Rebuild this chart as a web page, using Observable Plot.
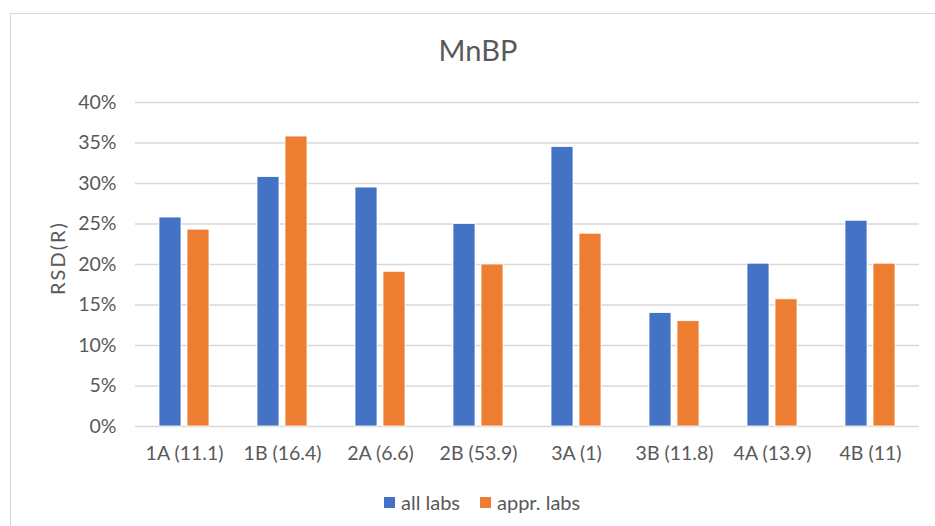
<!DOCTYPE html>
<html>
<head>
<meta charset="utf-8">
<script src="https://cdn.jsdelivr.net/npm/d3@7"></script>
<script src="https://cdn.jsdelivr.net/npm/@observablehq/plot@0.6"></script>
<style>
  html, body { margin: 0; padding: 0; background: #fff; overflow: hidden; }
  #wrap { position: relative; width: 935px; height: 526px; overflow: hidden; font-family: Lato, sans-serif; color: #595959; }
  #frame { position: absolute; left: 10px; top: 13px; width: 1000px; height: 1000px; border: 1px solid #d9d9d9; }
  #chart { position: absolute; left: 0; top: 0; }
  #title { position: absolute; left: 10px; width: 936px; top: 32px; text-align: center; font-size: 29px; line-height: 36px; }
  #ylabel { position: absolute; left: 57px; top: 258px; transform: translate(-50%, -50%) rotate(-90deg); font-size: 20px; letter-spacing: 2px; white-space: nowrap; }
  .leg { position: absolute; top: 491px; display: flex; align-items: center; font-size: 20px; line-height: 22px; }
  .leg span.sw { display: inline-block; width: 11px; height: 11px; margin-right: 6px; }
</style>
</head>
<body>
<div id="wrap">
  <div id="frame"></div>
  <div id="chart"></div>
  <div id="title">MnBP</div>
  <div id="ylabel">RSD(R)</div>
  <div id="legend"></div>
</div>
<script>
const categories = ["1A (11.1)", "1B (16.4)", "2A (6.6)", "2B (53.9)", "3A (1)", "3B (11.8)", "4A (13.9)", "4B (11)"];
const series = ["all labs", "appr. labs"];
const allLabs = [0.258, 0.308, 0.295, 0.250, 0.345, 0.140, 0.201, 0.254];
const apprLabs = [0.243, 0.358, 0.191, 0.200, 0.238, 0.130, 0.157, 0.201];
const yTicks = [0, 0.05, 0.10, 0.15, 0.20, 0.25, 0.30, 0.35, 0.40];
const colors = ["#4472C4", "#ED7D31"];

const data = [];
categories.forEach((c, i) => {
  data.push({cat: c, series: series[0], value: allLabs[i]});
  data.push({cat: c, series: series[1], value: apprLabs[i]});
});

const chart = Plot.plot({
  width: 935,
  height: 470,
  marginTop: 102,
  marginBottom: 44,
  marginLeft: 133,
  marginRight: 14,
  style: {fontFamily: "Lato, sans-serif", fontSize: "19.5px", color: "#595959", background: "transparent"},
  fx: {domain: categories, padding: 0, label: null, axis: "bottom", tickSize: 0, tickPadding: 20},
  x: {domain: series, axis: null, paddingInner: 0.23, paddingOuter: 0.837},
  y: {domain: [0, 0.4], ticks: 8, tickFormat: d3.format(".0%"), tickSize: 0, tickPadding: 19, label: null},
  color: {domain: series, range: colors},
  marks: [
    Plot.ruleY(yTicks, {stroke: "#d9d9d9", strokeWidth: 1.6}),
    Plot.barY(data, {fx: "cat", x: "series", y: "value", fill: "series", stroke: "white", strokeWidth: 0.8})
  ]
});
document.getElementById("chart").appendChild(chart);

const legend = document.getElementById("legend");
const legLeft = [384, 480];
series.forEach((s, i) => {
  const d = document.createElement("div");
  d.className = "leg";
  d.style.left = legLeft[i] + "px";
  const sw = document.createElement("span");
  sw.className = "sw";
  sw.style.background = colors[i];
  d.appendChild(sw);
  d.appendChild(document.createTextNode(s));
  legend.appendChild(d);
});
</script>
</body>
</html>
